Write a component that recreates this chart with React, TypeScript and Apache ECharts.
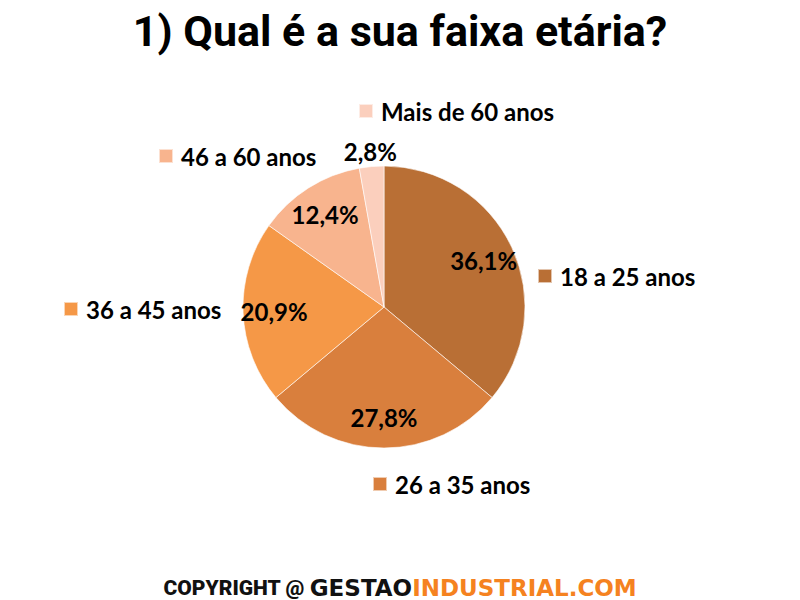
import React, { useEffect, useRef } from "react";
import * as echarts from "echarts";

const categories = ["18 a 25 anos", "26 a 35 anos", "36 a 45 anos", "46 a 60 anos", "Mais de 60 anos"];
const values = [36.1, 27.8, 20.9, 12.4, 2.8];
const colors = ["#B96F35", "#D97F3D", "#F59847", "#F8B48E", "#FBCFBD"];
const legendPlaces = [
  { left: 537, top: 264 },
  { left: 372, top: 472 },
  { left: 63, top: 297 },
  { left: 158, top: 144 },
  { left: 358, top: 99 },
];

const fmt = (v: number) => v.toFixed(1).replace(".", ",") + "%";

export default function App() {
  const ref = useRef<HTMLDivElement>(null);
  useEffect(() => {
    if (!ref.current) return;
    const chart = echarts.init(ref.current, null, { renderer: "svg" });
    const data = categories.map((name, i) => ({ name, value: values[i], itemStyle: { color: colors[i] } }));
    const labelFont = { fontFamily: "Lato", fontWeight: "bold" as const, fontSize: 24, color: "#000" };
    const center = ["384", "307"];
    chart.setOption({
      animation: false,
      backgroundColor: "#fff",
      title: [
        {
          text: "1) Qual é a sua faixa etária?",
          left: "center",
          top: 4,
          textStyle: { fontFamily: "Roboto", fontWeight: "bold", fontSize: 43, color: "#000" },
        },
        {
          text: "{a|COPYRIGHT @ }{b|GESTAO}{c|INDUSTRIAL.COM}",
          left: "center",
          top: 571,
          textStyle: {
            rich: {
              a: { fontFamily: "Roboto", fontWeight: 900, fontSize: 21, color: "#111" },
              b: { fontFamily: "DejaVu Sans", fontWeight: "bold", fontSize: 23, color: "#111" },
              c: { fontFamily: "DejaVu Sans", fontWeight: "bold", fontSize: 23, color: "#F58220" },
            },
          },
        },
      ],
      legend: categories.map((name, i) => ({
        data: [name],
        left: legendPlaces[i].left,
        top: legendPlaces[i].top,
        padding: 0,
        itemWidth: 14,
        itemHeight: 14,
        icon: "rect",
        selectedMode: false,
        textStyle: { ...labelFont, padding: [0, 0, 0, 3] },
      })),
      series: [
        {
          type: "pie",
          center,
          radius: [0, 141],
          startAngle: 90,
          clockwise: true,
          data: data.map((d, i) => ({
            ...d,
            label:
              i === 4
                ? { show: true, position: "outside", formatter: (p: any) => fmt(p.value), ...labelFont, distanceToLabelLine: 0 }
                : { show: false },
          })),
          itemStyle: { borderColor: "rgba(255,255,255,0.6)", borderWidth: 1 },
          label: { show: false },
          labelLine: { show: false, length: 15, length2: 0 },
          labelLayout: { align: "center" },
          emphasis: { disabled: true },
        },
        {
          type: "pie",
          center,
          radius: [0, 214],
          startAngle: 90,
          clockwise: true,
          silent: true,
          data: data.map((d, i) => ({
            name: d.name,
            value: d.value,
            itemStyle: { color: "transparent" },
            label: { show: i !== 4 },
          })),
          itemStyle: { color: "transparent", borderWidth: 0 },
          label: { show: true, position: "inside", formatter: (p: any) => fmt(p.value), ...labelFont },
          labelLine: { show: false },
          emphasis: { disabled: true },
        },
      ],
    });
    return () => chart.dispose();
  }, []);
  return <div ref={ref} style={{ width: 800, height: 600, position: "absolute", left: 0, top: 0 }} />;
}
